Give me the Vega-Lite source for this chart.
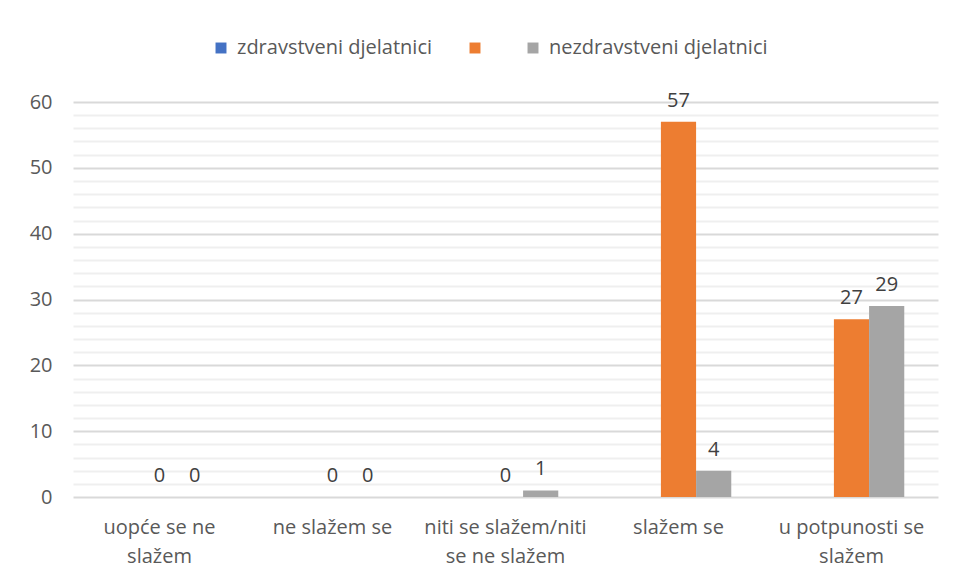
{
  "$schema": "https://vega.github.io/schema/vega-lite/v6.json",
  "autosize": {"type": "none"},
  "width": 865,
  "height": 395,
  "padding": {"left": 73, "top": 102, "right": 20, "bottom": 85},
  "background": "white",
  "config": {
    "view": {"stroke": null},
    "font": "Open Sans",
    "text": {"font": "Open Sans"}
  },
  "data": {
    "values": [
      {"kategorija": "uopće se ne slažem", "serija": "zdravstveni djelatnici", "vrijednost": 0},
      {"kategorija": "uopće se ne slažem", "serija": "", "vrijednost": 0},
      {"kategorija": "uopće se ne slažem", "serija": "nezdravstveni djelatnici", "vrijednost": 0},
      {"kategorija": "ne slažem se", "serija": "zdravstveni djelatnici", "vrijednost": 0},
      {"kategorija": "ne slažem se", "serija": "", "vrijednost": 0},
      {"kategorija": "ne slažem se", "serija": "nezdravstveni djelatnici", "vrijednost": 0},
      {"kategorija": "niti se slažem/niti se ne slažem", "serija": "zdravstveni djelatnici", "vrijednost": 0},
      {"kategorija": "niti se slažem/niti se ne slažem", "serija": "", "vrijednost": 0},
      {"kategorija": "niti se slažem/niti se ne slažem", "serija": "nezdravstveni djelatnici", "vrijednost": 1},
      {"kategorija": "slažem se", "serija": "zdravstveni djelatnici", "vrijednost": 0},
      {"kategorija": "slažem se", "serija": "", "vrijednost": 57},
      {"kategorija": "slažem se", "serija": "nezdravstveni djelatnici", "vrijednost": 4},
      {"kategorija": "u potpunosti se slažem", "serija": "zdravstveni djelatnici", "vrijednost": 0},
      {"kategorija": "u potpunosti se slažem", "serija": "", "vrijednost": 27},
      {"kategorija": "u potpunosti se slažem", "serija": "nezdravstveni djelatnici", "vrijednost": 29}
    ]
  },
  "encoding": {
    "x": {
      "field": "kategorija",
      "type": "nominal",
      "sort": null,
      "scale": {"paddingInner": 0.39, "paddingOuter": 0.195},
      "axis": {
        "title": null,
        "labelAngle": 0,
        "domain": false,
        "ticks": false,
        "labelFontSize": 20,
        "labelColor": "#595959",
        "labelPadding": 20,
        "labelLimit": 0,
        "labelLineHeight": 29,
        "labelBaseline": "top",
        "labelExpr": "datum.value == 'uopće se ne slažem' ? ['uopće se ne', 'slažem'] : datum.value == 'niti se slažem/niti se ne slažem' ? ['niti se slažem/niti', 'se ne slažem'] : datum.value == 'u potpunosti se slažem' ? ['u potpunosti se', 'slažem'] : datum.value"
      }
    },
    "xOffset": {
      "field": "serija",
      "type": "nominal",
      "scale": {"domain": ["zdravstveni djelatnici", "", "nezdravstveni djelatnici"], "paddingInner": 0, "paddingOuter": 0}
    },
    "y": {
      "field": "vrijednost",
      "type": "quantitative",
      "scale": {"domain": [0, 60], "nice": false},
      "axis": {
        "title": null,
        "domain": false,
        "ticks": false,
        "values": [0, 2, 4, 6, 8, 10, 12, 14, 16, 18, 20, 22, 24, 26, 28, 30, 32, 34, 36, 38, 40, 42, 44, 46, 48, 50, 52, 54, 56, 58, 60],
        "labelExpr": "datum.value % 10 === 0 ? datum.label : ''",
        "labelFontSize": 20,
        "labelColor": "#595959",
        "labelPadding": 21,
        "gridColor": {"condition": {"test": "datum.value % 10 === 0", "value": "#d9d9d9"}, "value": "#efefef"},
        "gridWidth": 2
      }
    }
  },
  "layer": [
    {
      "mark": {"type": "bar"},
      "encoding": {
        "color": {
          "field": "serija",
          "type": "nominal",
          "scale": {
            "domain": ["zdravstveni djelatnici", "", "nezdravstveni djelatnici"],
            "range": ["#4472C4", "#ED7D31", "#A5A5A5"]
          },
          "legend": {
            "title": null,
            "orient": "none",
            "direction": "horizontal",
            "legendX": 138,
            "legendY": -64,
            "symbolType": "square",
            "symbolSize": 120,
            "symbolStrokeWidth": 0,
            "labelFontSize": 20,
            "labelColor": "#595959",
            "labelOffset": 6,
            "labelLimit": 0,
            "columnPadding": 32
          }
        }
      }
    },
    {
      "transform": [{"filter": "datum.serija != 'zdravstveni djelatnici'"}],
      "mark": {"type": "text", "baseline": "bottom", "dy": -11, "fontSize": 20, "color": "#404040"},
      "encoding": {
        "text": {"field": "vrijednost", "type": "quantitative"}
      }
    }
  ]
}
